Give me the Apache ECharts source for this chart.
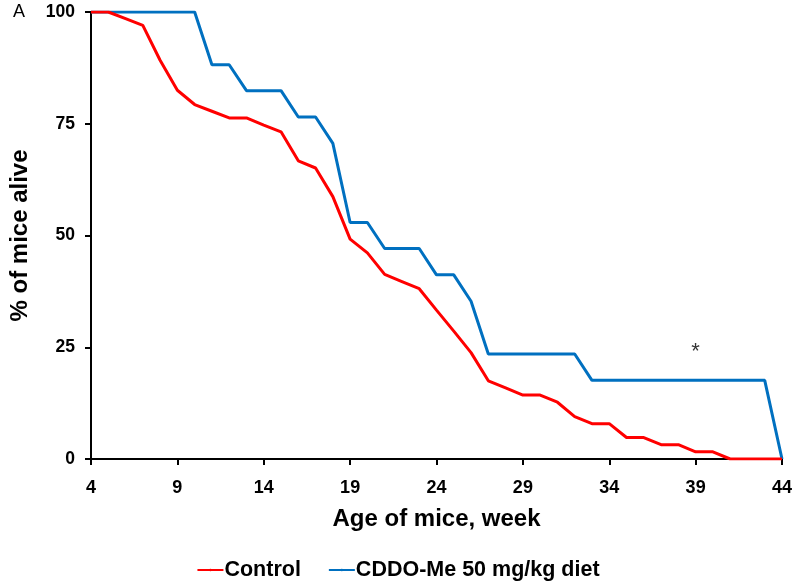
<!DOCTYPE html>
<html><head><meta charset="utf-8">
<script src="https://cdn.jsdelivr.net/npm/echarts@6/dist/echarts.min.js"></script>
<style>html,body{margin:0;padding:0;background:#fff}#c{width:796px;height:582px}</style>
</head><body><div id="c"></div>
<script>
const weeks = [4,5,6,7,8,9,10,11,12,13,14,15,16,17,18,19,20,21,22,23,24,25,26,27,28,29,30,31,32,33,34,35,36,37,38,39,40,41,42,43,44];
const control = [100,100,98.5,97,89.2,82.5,79.3,77.8,76.3,76.3,74.7,73.2,66.7,65.1,58.7,49.2,46.1,41.3,39.7,38.1,33.3,28.6,23.8,17.5,15.9,14.3,14.3,12.7,9.5,7.9,7.9,4.8,4.8,3.2,3.2,1.6,1.6,0,0,0,0];
const cddo = [100,100,100,100,100,100,100,88.2,88.2,82.4,82.4,82.4,76.5,76.5,70.6,52.9,52.9,47.1,47.1,47.1,41.2,41.2,35.3,23.5,23.5,23.5,23.5,23.5,23.5,17.6,17.6,17.6,17.6,17.6,17.6,17.6,17.6,17.6,17.6,17.6,0];
const xTicks = [4,9,14,19,24,29,34,39,44];
const yTicks = [0,25,50,75,100];
const seriesNames = ['Control','CDDO-Me 50 mg/kg diet'];
const annotation = {week: 39, value: 24, text: '*'};

const font = '"Liberation Sans", Arial, sans-serif';
const chart = echarts.init(document.getElementById('c'), null, {renderer:'canvas'});
chart.setOption({
  animation: false,
  backgroundColor: '#fff',
  grid: {left: 88, right: 14, top: 12, bottom: 123, containLabel: false},
  xAxis: {
    type: 'value', min: 4, max: 44,
    name: 'Age of mice, week', nameLocation: 'middle', nameGap: 48,
    nameTextStyle: {fontFamily: font, fontWeight: 'bold', fontSize: 24, color: '#000'},
    axisLine: {show: true, lineStyle: {color: '#000', width: 2}},
    axisTick: {show: true, length: 6, lineStyle: {color: '#000', width: 2}, customValues: xTicks},
    axisLabel: {customValues: xTicks, fontFamily: font, fontWeight: 'bold', fontSize: 18, color: '#000', margin: 20},
    splitLine: {show: false}
  },
  yAxis: {
    type: 'value', min: 0, max: 100, interval: 25,
    name: '% of mice alive', nameLocation: 'middle', nameGap: 59,
    nameTextStyle: {fontFamily: font, fontWeight: 'bold', fontSize: 24, color: '#000'},
    axisLine: {show: true, lineStyle: {color: '#000', width: 2}},
    axisTick: {show: true, length: 6, lineStyle: {color: '#000', width: 2}},
    axisLabel: {fontFamily: font, fontWeight: 'bold', fontSize: 17.5, color: '#000', margin: 16},
    splitLine: {show: false}
  },
  legend: {
    top: 554, left: 'center', itemWidth: 26, itemHeight: 3, itemGap: 27,
    textStyle: {fontFamily: font, fontWeight: 'bold', fontSize: 21.5, color: '#000', padding: [0,0,0,-4]},
    data: seriesNames
  },
  graphic: [{type: 'text', left: 13, top: 3, style: {text: 'A', fontFamily: font, fontSize: 18, fill: '#000'}}],
  series: [
    {name: seriesNames[0], type: 'line', symbol: 'none', color: '#ff0000',
     lineStyle: {width: 3, color: '#ff0000'}, z: 3,
     data: weeks.map((w,i)=>[w, control[i]])},
    {name: seriesNames[1], type: 'line', symbol: 'none', color: '#0070c0',
     lineStyle: {width: 3, color: '#0070c0'}, z: 2,
     data: weeks.map((w,i)=>[w, cddo[i]])},
    {name: 'annotation', type: 'scatter', symbol: 'circle', symbolSize: 2,
     itemStyle: {color: 'rgba(255,255,255,0)'}, silent: true,
     data: [[annotation.week, annotation.value]],
     label: {show: true, position: 'inside', formatter: annotation.text, fontFamily: font, fontSize: 22, color: '#000'}}
  ]
});
</script></body></html>
